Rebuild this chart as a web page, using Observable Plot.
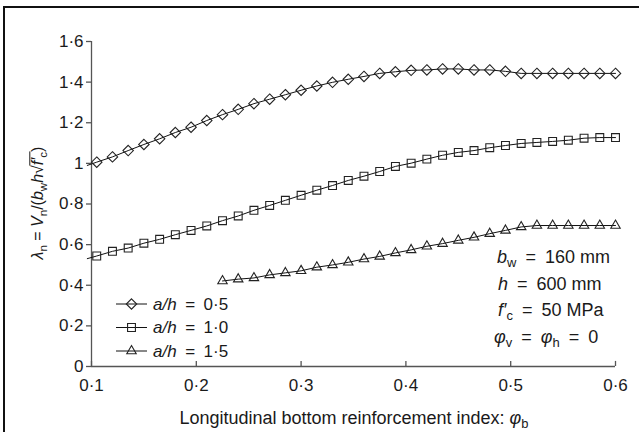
<!DOCTYPE html>
<html><head><meta charset="utf-8">
<script src="https://cdn.jsdelivr.net/npm/d3@7"></script>
<script src="https://cdn.jsdelivr.net/npm/@observablehq/plot@0.6"></script>
<style>
html,body{margin:0;padding:0;background:#fff;overflow:hidden;}
#wrap{position:relative;width:639px;height:432px;}
#frame{position:absolute;left:3px;top:6px;width:700px;height:500px;border-top:2.5px solid #111;border-left:2px solid #111;pointer-events:none;}
</style></head><body>
<div id="wrap"><div id="frame"></div></div>
<script>
// ---- data ----
const phiB = [0.105,0.12,0.135,0.15,0.165,0.18,0.195,0.21,0.225,0.24,0.255,0.27,0.285,0.3,0.315,0.33,0.345,0.36,0.375,0.39,0.405,0.42,0.435,0.45,0.465,0.48,0.495,0.51,0.525,0.54,0.555,0.57,0.585,0.6];
const lambda05 = [1.006,1.032,1.063,1.093,1.121,1.152,1.178,1.211,1.240,1.266,1.294,1.316,1.338,1.360,1.381,1.399,1.414,1.428,1.443,1.451,1.458,1.460,1.465,1.465,1.460,1.460,1.453,1.443,1.443,1.443,1.443,1.443,1.443,1.443];
const lambda10 = [0.544,0.567,0.583,0.607,0.626,0.649,0.670,0.692,0.718,0.741,0.769,0.793,0.818,0.843,0.868,0.891,0.916,0.937,0.960,0.985,1.001,1.021,1.040,1.054,1.063,1.077,1.088,1.098,1.103,1.108,1.114,1.124,1.127,1.127];
const phiBTri = [0.225,0.24,0.255,0.27,0.285,0.3,0.315,0.33,0.345,0.36,0.375,0.39,0.405,0.42,0.435,0.45,0.465,0.48,0.495,0.51,0.525,0.54,0.555,0.57,0.585,0.6];
const lambda15 = [0.421,0.430,0.436,0.451,0.461,0.471,0.489,0.500,0.513,0.529,0.542,0.559,0.574,0.592,0.605,0.621,0.636,0.654,0.670,0.687,0.694,0.694,0.694,0.694,0.694,0.694];
// lines start slightly left of the first marker
const lineStartPhi = 0.096;
const lineStart05 = 0.990;
const lineStart10 = 0.531;

const xTicks = [0.1,0.2,0.3,0.4,0.5,0.6];
const yTicks = [0,0.2,0.4,0.6,0.8,1.0,1.2,1.4,1.6];
const legendValues = ["0·5","1·0","1·5"];
const legendSymbols = ["diamond2","square2","triangle2"];
const symbolR = [4.7,5.0,4.5];

// ---- build tables ----
const rows05 = phiB.map((x,i)=>({x, y: lambda05[i]}));
const rows10 = phiB.map((x,i)=>({x, y: lambda10[i]}));
const rows15 = phiBTri.map((x,i)=>({x, y: lambda15[i]}));
const line05 = [{x: lineStartPhi, y: lineStart05}, ...rows05];
const line10 = [{x: lineStartPhi, y: lineStart10}, ...rows10];

const fmt = d => String(+(+d).toFixed(1)).replace(".", "\u00B7");
const AX = "#555";
const INK = "#1a1a1a";
const EQ = "\u2002=\u2002";

const chart = Plot.plot({
  width: 639, height: 432,
  marginLeft: 91, marginRight: 24, marginTop: 41, marginBottom: 66,
  style: {fontFamily: "'Liberation Sans', Arial, sans-serif", fontSize: "17px", color: INK, background: "white", overflow: "visible"},
  x: {domain: [0.1, 0.6], ticks: xTicks, tickFormat: fmt, tickSize: 0, tickPadding: 12, label: null},
  y: {domain: [0, 1.6], ticks: yTicks, tickFormat: fmt, tickSize: 0, tickPadding: 8, label: null},
  marks: [
    Plot.ruleY([0], {stroke: AX, strokeWidth: 1.3}),
    Plot.ruleX([0.1], {stroke: AX, strokeWidth: 1.3}),
    Plot.ruleX(xTicks, {x: d => d, y1: () => 0, y2: () => 0.025, stroke: AX, strokeWidth: 1.3}),
    Plot.ruleY(yTicks, {y: d => d, x1: () => 0.0952, x2: () => 0.1, stroke: AX, strokeWidth: 1.3}),
    Plot.line(line05, {x: "x", y: "y", stroke: "#111", strokeWidth: 1}),
    Plot.line(line10, {x: "x", y: "y", stroke: "#111", strokeWidth: 1}),
    Plot.line(rows15, {x: "x", y: "y", stroke: "#111", strokeWidth: 1}),
    Plot.dot(rows05, {x: "x", y: "y", symbol: legendSymbols[0], r: symbolR[0], stroke: "#222", strokeWidth: 1.1, fill: "none"}),
    Plot.dot(rows10, {x: "x", y: "y", symbol: legendSymbols[1], r: symbolR[1], stroke: "#222", strokeWidth: 1.1, fill: "none"}),
    Plot.dot(rows15, {x: "x", y: "y", symbol: legendSymbols[2], r: symbolR[2], stroke: "#222", strokeWidth: 1.1, fill: "none"})
  ]
});

const wrap = document.getElementById("wrap");
wrap.insertBefore(chart, document.getElementById("frame"));

const svg = d3.select(chart);
const FONT = "'Liberation Sans', Arial, sans-serif";

function richText(g, x, y, parts, size, opts = {}) {
  const t = g.append("text").attr("x", x).attr("y", y)
    .attr("font-family", FONT).attr("font-size", size).attr("fill", INK)
    .attr("text-anchor", opts.anchor || "start")
    .attr("xml:space", "preserve").style("white-space", "pre");
  let shifted = 0;
  parts.forEach(p => {
    const s = t.append("tspan").text(p.t);
    if (p.i) s.attr("font-style", "italic");
    const want = p.sub ? 4 : 0;
    if (want !== shifted) { s.attr("dy", want - shifted); shifted = want; }
    if (p.sub) s.attr("font-size", size * 0.72);
  });
  return t;
}

// legend
const legendG = svg.append("g");
const legendRowY = [304, 327.5, 351];
legendValues.forEach((v, i) => {
  const y = legendRowY[i];
  legendG.append("line").attr("x1", 116).attr("x2", 147).attr("y1", y).attr("y2", y)
    .attr("stroke", "#111").attr("stroke-width", 1);
  const sym = {diamond2: d3.symbolDiamond2, square2: d3.symbolSquare2, triangle2: d3.symbolTriangle2}[legendSymbols[i]];
  legendG.append("path").attr("transform", `translate(131.5,${y})`)
    .attr("d", d3.symbol(sym, Math.PI * symbolR[i] * symbolR[i])())
    .attr("fill", "none").attr("stroke", "#222").attr("stroke-width", 1.1);
  richText(legendG, 153, y + 5.5, [{t: "a/h", i: true}, {t: EQ + v}], 17);
});

// annotation block
const ann = svg.append("g");
richText(ann, 497, 263, [{t: "b", i: true}, {t: "w", sub: true}, {t: EQ + "160 mm"}], 18);
richText(ann, 498, 289.5, [{t: "h", i: true}, {t: EQ + "600 mm"}], 18);
richText(ann, 498, 316, [{t: "f\u2032", i: true}, {t: "c", sub: true}, {t: EQ + "50 MPa"}], 18);
richText(ann, 494, 343, [{t: "\u03C6", i: true}, {t: "v", sub: true}, {t: EQ}, {t: "\u03C6", i: true}, {t: "h", sub: true}, {t: EQ + "0"}], 18);

// x axis title
const xt = svg.append("g").attr("transform", "translate(354,424)");
richText(xt, 0, 0, [{t: "Longitudinal bottom reinforcement index: "}, {t: "\u03C6", i: true}, {t: "b", sub: true}], 18, {anchor: "middle"});

// y axis title with radical bar
const yt = svg.append("g").attr("transform", "translate(43,203) rotate(-90)");
const ytext = richText(yt, 0, 0, [
  {t: "\u03BB", i: true}, {t: "n", sub: true}, {t: " = "}, {t: "V", i: true}, {t: "n", sub: true}, {t: "/("},
  {t: "b", i: true}, {t: "w", sub: true}, {t: "h", i: true}, {t: "\u221A"}, {t: "f\u2032", i: true}, {t: "c", sub: true}, {t: ")"}
], 16, {anchor: "middle"});
try {
  const node = ytext.node();
  const full = node.textContent;
  const iRad = full.indexOf("\u221A");
  const iC = full.lastIndexOf("c");
  const x0 = node.getEndPositionOfChar(iRad).x - 0.5;
  const x1 = node.getEndPositionOfChar(iC).x + 0.5;
  yt.append("line").attr("x1", x0).attr("x2", x1).attr("y1", -13.2).attr("y2", -13.2)
    .attr("stroke", INK).attr("stroke-width", 1);
} catch (e) {}
</script></body></html>
